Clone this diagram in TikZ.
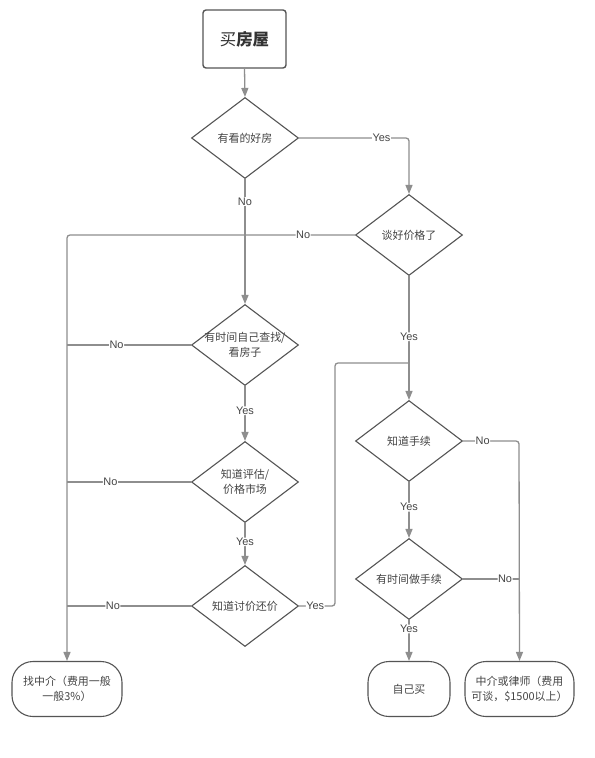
\documentclass[tikz,border=0pt]{standalone}
\usepackage{fontspec}
\setmainfont{Liberation Sans}
\newfontfamily\cjk{Noto Sans CJK SC}
\usetikzlibrary{shapes.geometric,arrows.meta}
\definecolor{lnc}{HTML}{8E8E8E}
\definecolor{bdc}{HTML}{555555}
\definecolor{txc}{HTML}{444444}
\tikzset{
  dia/.style={draw=bdc, line width=1.1bp, shape=diamond, minimum width=107bp, minimum height=81bp, inner sep=0pt},
  dtext/.style={text=txc, font=\cjk\fontsize{11}{15.5}\selectfont, align=center},
  endbox/.style={draw=bdc, line width=1.1bp, rounded corners=21bp, minimum height=55bp, text=txc, font=\cjk\fontsize{11}{15.5}\selectfont, align=center, inner sep=0pt},
  conn/.style={draw=lnc, line width=1.3bp, rounded corners=3bp},
  arr/.style={conn, -{Triangle[length=9bp,width=7bp]}},
  lab/.style={fill=white, text=txc, font=\fontsize{11}{12}\selectfont, inner sep=0.5bp}
}
\begin{document}
\begin{tikzpicture}[x=1bp,y=-1bp]
\useasboundingbox (0,0) rectangle (595,758);
\fill[white] (0,0) rectangle (595,758);
% start
\node[draw=bdc, line width=1.4bp, rounded corners=3bp, minimum width=83bp, minimum height=58bp, text=black!80, font=\cjk\fontsize{16.5}{18}\selectfont] (start) at (244.5,39) {买\textbf{房屋}};
% diamonds
\node[dia, label={[dtext]center:有看的好房}] (d1) at (245,138) {};
\node[dia, label={[dtext]center:谈好价格了}] (d2) at (409,235) {};
\node[dia, label={[dtext]center:有时间自己查找/\\看房子}] (d3) at (245,345) {};
\node[dia, label={[dtext]center:知道评估/\\价格市场}] (d4) at (245,482) {};
\node[dia, label={[dtext]center:知道讨价还价}] (d5) at (245,606) {};
\node[dia, label={[dtext]center:知道手续}] (d6) at (409,441) {};
\node[dia, label={[dtext]center:有时间做手续}] (d7) at (409,579) {};
% end boxes
\node[endbox, minimum width=110bp] (b1) at (67,689) {找中介（费用一般\\一般3\%）};
\node[endbox, minimum width=82bp] (b2) at (409,689) {自己买};
\node[endbox, minimum width=109bp] (b3) at (519.5,689) {中介或律师（费用\\可谈，\$1500以上）};
% coordinates
\coordinate (c1) at (409,138);
\coordinate (c2) at (67,235);
\coordinate (c3) at (67,345);
\coordinate (c4) at (67,482);
\coordinate (c5) at (67,606);
\coordinate (c6a) at (335,606);
\coordinate (c6b) at (335,363);
\coordinate (c6c) at (409,363);
\coordinate (c7) at (519,441);
\coordinate (c8) at (519,579);
% connectors
\draw[arr] (start.south) -- (d1.north);
\draw[arr] (d1.east) -- node[lab, pos=0.75]{Yes} (c1) -- (d2.north);
\draw[arr] (d1.south) -- node[lab, pos=0.18]{No} (d3.north);
\draw[arr] (d2.west) -- node[lab, pos=0.18]{No} (c2) -- (b1.north);
\draw[conn] (d3.west) -- node[lab, pos=0.6]{No} (c3);
\draw[conn] (d4.west) -- node[lab, pos=0.65]{No} (c4);
\draw[conn] (d5.west) -- node[lab, pos=0.63]{No} (c5);
\draw[arr] (d3.south) -- node[lab, pos=0.45]{Yes} (d4.north);
\draw[arr] (d4.south) -- node[lab, pos=0.45]{Yes} (d5.north);
\draw[conn] (d5.east) -- node[lab, pos=0.45]{Yes} (c6a) -- (c6b) -- (c6c);
\draw[arr] (d2.south) -- node[lab, pos=0.49]{Yes} (d6.north);
\draw[arr] (d6.east) -- node[lab, pos=0.35]{No} (c7) -- (b3.north);
\draw[conn] (d7.east) -- node[lab, pos=0.75]{No} (c8);
\draw[arr] (d6.south) -- node[lab, pos=0.45]{Yes} (d7.north);
\draw[arr] (d7.south) -- node[lab, pos=0.22]{Yes} (b2.north);
\end{tikzpicture}
\end{document}
